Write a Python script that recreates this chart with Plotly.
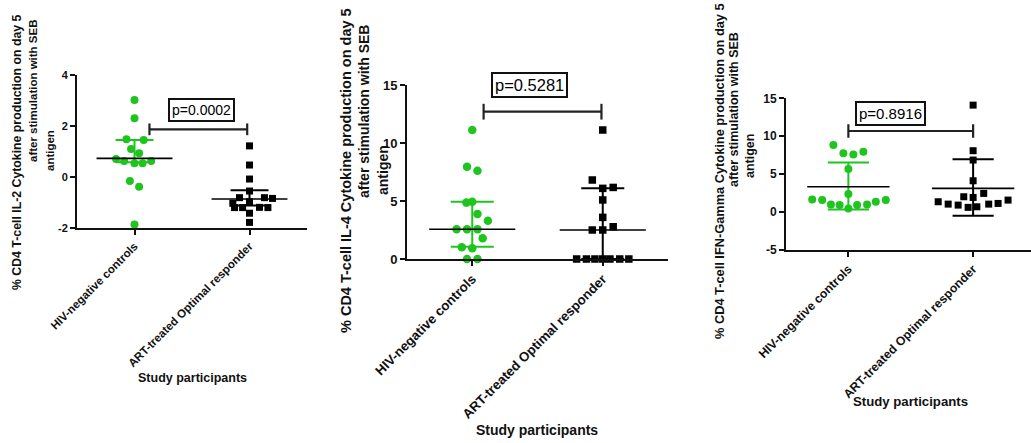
import plotly.graph_objects as go

# ---------------- data ----------------
categories = ["HIV-negative controls", "ART-treated Optimal responder"]

# Panel 1: IL-2
il2_hiv = [3.02, 2.30, 1.48, 1.45, 1.10, 0.93, 0.71, 0.63, 0.54, 0.54, 0.63, -0.16, -0.38, -1.86]
il2_art = [1.22, 0.47, -0.08, -0.55, -0.81, -0.81, -0.84, -1.03, -0.97, -1.20, -1.20, -1.19, -1.20, -1.42, -1.78]
il2_median = [0.73, -0.86]
il2_lower = [0.58, -1.12]
il2_upper = [1.45, -0.52]
il2_p = "p=0.0002"

# Panel 2: IL-4
il4_hiv = [11.12, 7.96, 7.61, 4.94, 4.86, 3.88, 3.30, 2.56, 2.56, 2.56, 1.78, 1.01, 0.92, 0.0, 0.0]
il4_art = [11.12, 6.81, 6.09, 6.17, 5.09, 3.59, 2.50, 2.50, 2.78, 0.0, 0.0, 0.0, 0.0, 0.0, 0.0, 0.0]
il4_median = [2.56, 2.50]
il4_lower = [1.06, 0.0]
il4_upper = [4.94, 6.10]
il4_p = "p=0.5281"

# Panel 3: IFN-Gamma
ifng_hiv = [8.84, 7.74, 7.60, 7.96, 5.67, 2.37, 1.67, 1.58, 1.01, 0.92, 0.48, 0.92, 1.01, 1.36, 1.58]
ifng_art = [14.1, 8.09, 6.86, 4.13, 2.02, 1.93, 2.46, 1.36, 1.05, 0.92, 0.62, 0.70, 1.05, 1.14, 1.58]
ifng_median = [3.34, 3.12]
ifng_lower = [0.35, -0.48]
ifng_upper = [6.55, 6.95]
ifng_p = "p=0.8916"

il2_ticks = [-2, 0, 2, 4]
il4_ticks = [0, 5, 10, 15]
ifng_ticks = [-5, 0, 5, 10, 15]

# ---------------- layout helpers (positions / styles) ----------------
# horizontal scatter offsets of the points around each category
il2_hiv_jit = [0, 0, -0.07, 0.08, -0.03, 0.04, -0.16, -0.09, 0, 0.07, 0.145, -0.04, 0.04, 0]
il2_art_jit = [0, 0, 0, 0, -0.087, 0.13, 0.2, -0.145, 0, -0.13, -0.06, 0.087, 0.16, 0, 0]
il4_hiv_jit = [0, -0.04, 0.04, 0, -0.045, 0.04, 0.12, -0.12, -0.04, 0.04, 0.08, -0.08, 0, -0.04, 0.04]
il4_art_jit = [0, -0.08, 0, 0.08, 0, 0, -0.08, 0, 0.08, -0.2, -0.125, -0.06, 0, 0.055, 0.13, 0.2]
ifng_hiv_jit = [-0.12, -0.04, 0.04, 0.12, 0, 0, -0.29, -0.21, -0.14, -0.07, 0, 0.07, 0.15, 0.22, 0.30]
ifng_art_jit = [0, 0, 0, 0, -0.075, 0, 0.085, -0.28, -0.2, -0.12, -0.04, 0.03, 0.125, 0.2, 0.28]

W, H = 1031, 443
GREEN = "#1fc41f"
FONT = "Liberation Sans, Arial, sans-serif"


def px(x):
    return x / W


def py(y):
    return 1 - y / H


fig = go.Figure()

panels = [
    dict(hiv=il2_hiv, art=il2_art, hj=il2_hiv_jit, aj=il2_art_jit, med=il2_median, lo=il2_lower, hi=il2_upper,
         p=il2_p, ticks=il2_ticks, yr=[-2, 4], xr=[-0.5, 1.5], xd=[77, 307], yd=[75, 228],
         br=(0.13, 0.98, 1.87, 0.23), pbox=(0.58, 2.64), pfont=14, tfont=11, xlfont=11.5, msize=8),
    dict(hiv=il4_hiv, art=il4_art, hj=il4_hiv_jit, aj=il4_art_jit, med=il4_median, lo=il4_lower, hi=il4_upper,
         p=il4_p, ticks=il4_ticks, yr=[0, 15], xr=[-0.5, 1.5], xd=[407, 668], yd=[85, 259],
         br=(0.087, 0.99, 12.7, 0.68), pbox=(0.436, 15.0), pfont=16.5, tfont=13, xlfont=13.3, msize=8.5),
    dict(hiv=ifng_hiv, art=ifng_art, hj=ifng_hiv_jit, aj=ifng_art_jit, med=ifng_median, lo=ifng_lower, hi=ifng_upper,
         p=ifng_p, ticks=ifng_ticks, yr=[-5, 15], xr=[-0.5, 1.464], xd=[786, 1031], yd=[98.3, 250],
         br=(0.0, 1.0, 10.69, 0.88), pbox=(0.34, 12.95), pfont=15, tfont=12, xlfont=12.3, msize=8),
]

for k, P in enumerate(panels):
    n = "" if k == 0 else str(k + 1)
    xa, ya = "x" + n, "y" + n
    colors = [GREEN, "black"]
    # error bars (vertical + caps)
    for i in range(2):
        c = colors[i]
        lo, hi = P["lo"][i], P["hi"][i]
        fig.add_trace(go.Scatter(
            x=[i, i, None, i - 0.165, i + 0.165, None, i - 0.165, i + 0.165],
            y=[lo, hi, None, lo, lo, None, hi, hi],
            mode="lines", line=dict(color=c, width=2), xaxis=xa, yaxis=ya,
            hoverinfo="skip", cliponaxis=False))
    # points
    fig.add_trace(go.Scatter(
        x=[0 + j for j in P["hj"]], y=P["hiv"], mode="markers",
        marker=dict(symbol="circle", color=GREEN, size=P["msize"], line=dict(width=0)),
        xaxis=xa, yaxis=ya, cliponaxis=False))
    fig.add_trace(go.Scatter(
        x=[1 + j for j in P["aj"]], y=P["art"], mode="markers",
        marker=dict(symbol="square", color="black", size=P["msize"] - 1, line=dict(width=0)),
        xaxis=xa, yaxis=ya, cliponaxis=False))
    # median lines
    fig.add_trace(go.Scatter(
        x=[-0.33, 0.33, None, 0.67, 1.33],
        y=[P["med"][0], P["med"][0], None, P["med"][1], P["med"][1]],
        mode="lines", line=dict(color="black", width=1.6), xaxis=xa, yaxis=ya,
        hoverinfo="skip", cliponaxis=False))
    # significance bracket
    x0, x1, ym, dh = P["br"]
    fig.add_trace(go.Scatter(
        x=[x0, x0, None, x0, x1, None, x1, x1],
        y=[ym + dh, ym - dh, None, ym, ym, None, ym + dh, ym - dh],
        mode="lines", line=dict(color="#222", width=2.2), xaxis=xa, yaxis=ya,
        hoverinfo="skip", cliponaxis=False))
    fig.add_annotation(x=P["pbox"][0], y=P["pbox"][1], xref=xa, yref=ya, text=P["p"],
                       showarrow=False, font=dict(family=FONT, size=P["pfont"], color="black"),
                       bordercolor="#111", borderwidth=2, borderpad=2, bgcolor="white")

    axis_common = dict(showline=True, linecolor="#111", linewidth=2, ticks="outside", ticklen=5,
                       tickwidth=2, tickcolor="#111", showgrid=False, zeroline=False, automargin=False)
    fig.layout["xaxis" + n] = dict(
        axis_common, domain=[px(P["xd"][0]), px(P["xd"][1])], range=P["xr"], anchor=ya,
        tickvals=[0, 1], ticktext=categories, tickangle=-45,
        tickfont=dict(family=FONT, size=P["xlfont"], color="#111", weight="bold"))
    fig.layout["yaxis" + n] = dict(
        axis_common, domain=[py(P["yd"][1]), py(P["yd"][0])], range=P["yr"], anchor=xa,
        tickvals=P["ticks"], ticktext=[str(t) for t in P["ticks"]],
        tickfont=dict(family=FONT, size=P["tfont"], color="#111", weight="bold"))

# ---------------- axis titles (as positioned text) ----------------
ytitles = [
    (["% CD4 T-cell IL-2 Cytokine production on day 5", "after stimulation with SEB", "antigen"],
     [(17, 152), (33, 91), (50, 151)], [12.3, 11.5, 11.5]),
    (["% CD4 T-cell IL-4 Cytokine production on day 5", "after stimulation with SEB", "antigen"],
     [(346, 171), (364, 112), (383, 170)], [14.5, 14, 14]),
    (["% CD4 T-cell IFN-Gamma Cytokine production on day 5", "after stimulation with SEB", "antigen"],
     [(719, 171), (734, 110), (750, 156)], [12.8, 12.5, 12.5]),
]
for lines, pos, sizes in ytitles:
    for t, (x, y), fs in zip(lines, pos, sizes):
        fig.add_annotation(x=px(x), y=py(y), xref="paper", yref="paper", text="<b>" + t + "</b>",
                           textangle=-90, showarrow=False, xanchor="center", yanchor="middle",
                           font=dict(family=FONT, size=fs, color="#111"))

xtitles = [("Study participants", 192, 378, 12.5), ("Study participants", 537, 430, 14),
           ("Study participants", 910, 401, 13.2)]
for t, x, y, fs in xtitles:
    fig.add_annotation(x=px(x), y=py(y), xref="paper", yref="paper", text="<b>" + t + "</b>",
                       showarrow=False, xanchor="center", yanchor="middle",
                       font=dict(family=FONT, size=fs, color="#111"))

fig.update_layout(width=W, height=H, margin=dict(l=0, r=0, t=0, b=0, autoexpand=False), showlegend=False,
                  paper_bgcolor="white", plot_bgcolor="white")

fig.write_html("out.html", config={"displayModeBar": False},
               post_script="document.body.style.margin='0';document.body.style.overflow='hidden';")
